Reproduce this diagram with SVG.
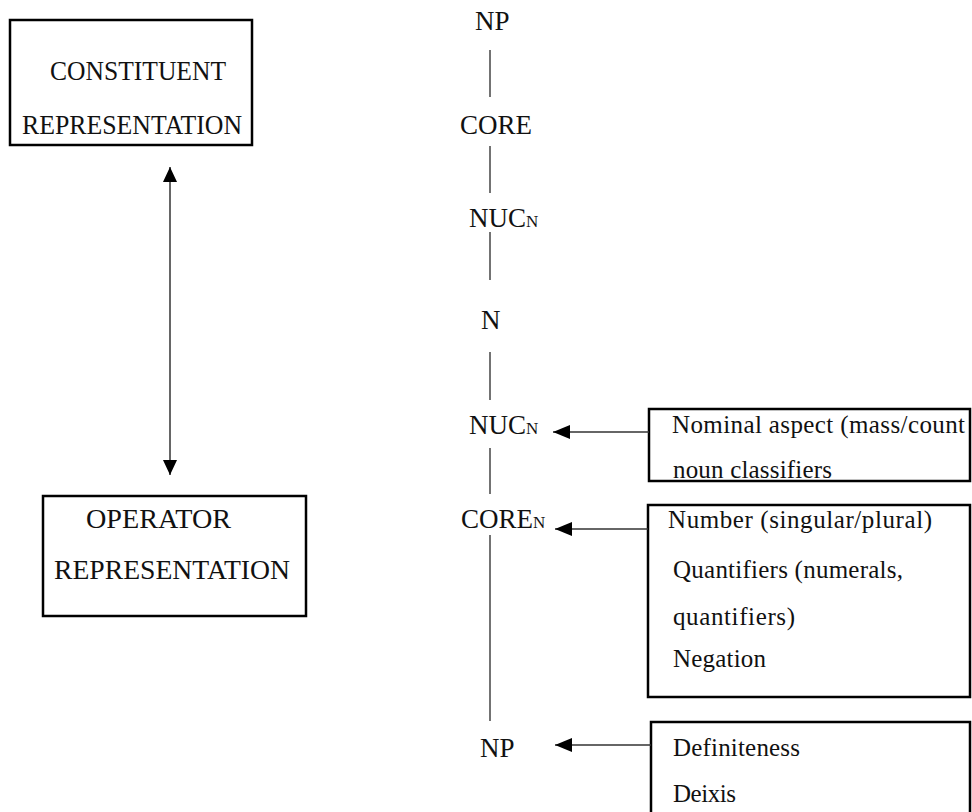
<svg xmlns="http://www.w3.org/2000/svg" width="972" height="812" viewBox="0 0 972 812">
<defs>
<style>
.t{font-family:"Liberation Serif","Times New Roman",serif;fill:#111}
.big{font-size:28px}
.tree{font-size:27px}
.sub{font-size:17px}
.small{font-size:25px}
.box{fill:none;stroke:#000;stroke-width:2.5}
.edge{stroke:#444;stroke-width:1.5;fill:none}
.arr{stroke:#333;stroke-width:1.5;fill:none}
</style>
<marker id="ah" markerUnits="userSpaceOnUse" markerWidth="18" markerHeight="16" refX="17" refY="8" orient="auto-start-reverse">
<path d="M0,1 L17,8 L0,15 Z" fill="#000"/>
</marker>
<marker id="ah2" markerUnits="userSpaceOnUse" markerWidth="16" markerHeight="16" refX="15" refY="7" orient="auto-start-reverse">
<path d="M0,0 L15,7 L0,14 Z" fill="#000"/>
</marker>
</defs>
<rect width="972" height="812" fill="#fff"/>

<g id="constituent">
<rect class="box" x="10" y="20" width="242" height="125"/>
<text class="t big" x="50" y="80" textLength="176" lengthAdjust="spacingAndGlyphs">CONSTITUENT</text>
<text class="t big" x="22" y="134" textLength="220" lengthAdjust="spacingAndGlyphs">REPRESENTATION</text>
</g>

<g id="operator">
<rect class="box" x="43" y="496" width="263" height="120"/>
<text class="t big" x="86" y="528" textLength="145" lengthAdjust="spacingAndGlyphs">OPERATOR</text>
<text class="t big" x="54" y="579" textLength="236" lengthAdjust="spacingAndGlyphs">REPRESENTATION</text>
</g>

<g id="np-top"><text class="t tree" x="475" y="30">NP</text></g>
<g id="core"><text class="t tree" x="460" y="134">CORE</text></g>
<g id="nuc1"><text class="t tree" x="469" y="227">NUC<tspan class="sub">N</tspan></text></g>
<g id="n"><text class="t tree" x="481" y="329">N</text></g>
<g id="nuc2"><text class="t tree" x="469" y="434">NUC<tspan class="sub">N</tspan></text></g>
<g id="coreN"><text class="t tree" x="461" y="528">CORE<tspan class="sub">N</tspan></text></g>
<g id="np-bottom"><text class="t tree" x="480" y="757">NP</text></g>

<g id="box-aspect">
<text class="t small" x="672" y="433" textLength="293">Nominal aspect (mass/count</text>
<text class="t small" x="673" y="478" textLength="159">noun classifiers</text>
<rect class="box" x="649" y="409" width="321" height="72"/>
</g>

<g id="box-number">
<rect class="box" x="648" y="505" width="322" height="192"/>
<text class="t small" x="668" y="528" textLength="264">Number (singular/plural)</text>
<text class="t small" x="673" y="578" textLength="230">Quantifiers (numerals,</text>
<text class="t small" x="673" y="625" textLength="122">quantifiers)</text>
<text class="t small" x="673" y="667" textLength="93">Negation</text>
</g>

<g id="box-def">
<rect class="box" x="651" y="722" width="319" height="100"/>
<text class="t small" x="673" y="756" textLength="127">Definiteness</text>
<text class="t small" x="673" y="802" textLength="63">Deixis</text>
</g>

<g id="connectors">
<line class="edge" x1="490" y1="50" x2="490" y2="97"/>
<line class="edge" x1="490" y1="146" x2="490" y2="193"/>
<line class="edge" x1="490" y1="232" x2="490" y2="280"/>
<line class="edge" x1="490" y1="352" x2="490" y2="400"/>
<line class="edge" x1="490" y1="448" x2="490" y2="494"/>
<line class="edge" x1="490" y1="535" x2="490" y2="721"/>
<line class="arr" x1="649" y1="432" x2="553" y2="432" marker-end="url(#ah)"/>
<line class="arr" x1="648" y1="529" x2="555" y2="529" marker-end="url(#ah)"/>
<line class="arr" x1="651" y1="745" x2="555" y2="745" marker-end="url(#ah)"/>
<line class="arr" x1="170" y1="167" x2="170" y2="475" marker-start="url(#ah2)" marker-end="url(#ah2)"/>
</g>
</svg>
